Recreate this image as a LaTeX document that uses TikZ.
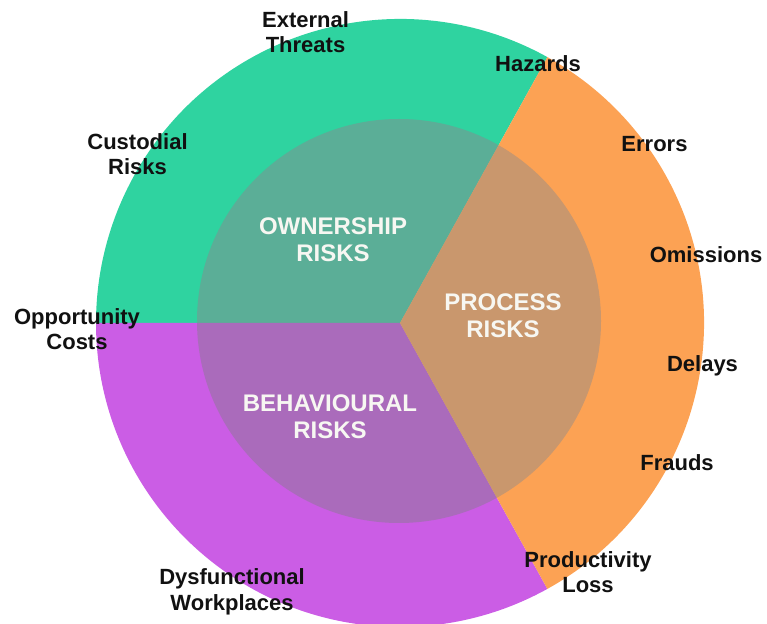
\documentclass[tikz,border=0pt]{standalone}
\usepackage{fontspec}
\setmainfont{Liberation Sans}
\definecolor{ogreen}{HTML}{2FD3A0}
\definecolor{oorange}{HTML}{FCA254}
\definecolor{opurple}{HTML}{CB5DE5}
\definecolor{igreen}{HTML}{5BAE97}
\definecolor{iorange}{HTML}{C9976D}
\definecolor{ipurple}{HTML}{AA6BBB}
\definecolor{txtdark}{HTML}{111111}
\definecolor{txtlight}{HTML}{F7F7F2}
\newcommand\twolines[2]{\begin{tabular}[t]{@{}c@{}}#1\\#2\end{tabular}}
\tikzset{
  outerlbl/.style={anchor=base, inner sep=0pt, text=txtdark,
    font=\fontsize{22}{25}\selectfont\bfseries},
  innerlbl/.style={anchor=base, inner sep=0pt, text=txtlight,
    font=\fontsize{24}{27}\selectfont\bfseries},
}
\begin{document}
\begin{tikzpicture}[x=1pt,y=1pt]
\useasboundingbox (0,0) rectangle (767,623);
\coordinate (c) at (400,300);
\coordinate (ic) at (399,302);
% outer sectors
\fill[ogreen] (c) -- ++(61:304) arc (61:180:304) -- cycle;
\fill[opurple] (c) -- ++(180:304) arc (180:299:304) -- cycle;
\fill[oorange] (c) -- ++(-61:304) arc (-61:61:304) -- cycle;
% inner circle
\begin{scope}
  \clip (ic) circle (202);
  \fill[igreen] (c) -- ++(61:400) arc (61:180:400) -- cycle;
  \fill[ipurple] (c) -- ++(180:400) arc (180:299:400) -- cycle;
  \fill[iorange] (c) -- ++(-61:400) arc (-61:61:400) -- cycle;
\end{scope}
% inner labels
\node[innerlbl] (own) at (333,388) {\twolines{OWNERSHIP}{RISKS}};
\node[innerlbl] (proc) at (503,312) {\twolines{PROCESS}{RISKS}};
\node[innerlbl] (beh) at (330,211) {\twolines{BEHAVIOURAL}{RISKS}};
% outer labels
\node[outerlbl] (ext) at (305.5,595) {\twolines{External}{Threats}};
\node[outerlbl] (haz) at (538,551) {Hazards};
\node[outerlbl] (cus) at (137.5,473) {\twolines{Custodial}{Risks}};
\node[outerlbl] (err) at (654.5,471) {Errors};
\node[outerlbl] (omi) at (706,360) {Omissions};
\node[outerlbl] (opp) at (77,298) {\twolines{Opportunity}{Costs}};
\node[outerlbl] (del) at (702.5,251) {Delays};
\node[outerlbl] (fra) at (677,152) {Frauds};
\node[outerlbl] (pro) at (588,56) {\twolines{Productivity}{Loss}};
\node[outerlbl] (dys) at (232,38) {\twolines{Dysfunctional}{Workplaces}};
\end{tikzpicture}
\end{document}
